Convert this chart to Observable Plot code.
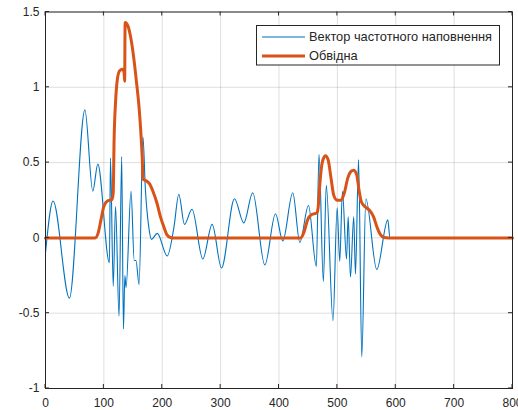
<!DOCTYPE html>
<html><head><meta charset="utf-8">
<script src="https://cdn.jsdelivr.net/npm/d3@7"></script>
<script src="https://cdn.jsdelivr.net/npm/@observablehq/plot@0.6"></script>
<style>body{margin:0;background:#fff}#chart{width:518px;height:410px}</style>
</head><body><div id="chart"></div>
<script>
// Blue signal ("Вектор частотного наповнення"): key points (extrema)
const signalX = [0, 13, 41, 67.5, 81, 89.6, 109.5, 111.3, 116, 120, 126, 130.5, 133.5, 136, 138, 146.5, 152, 155, 160.3, 167, 171, 177, 181.5, 191.5, 208.5, 220, 228.4, 238, 251, 269.5, 285.5, 301.5, 323.7, 339.7, 355, 375.7, 394, 406.5, 423.6, 435.6, 450.5, 464, 468.5, 476, 481, 492.5, 499.6, 504, 508.7, 515.6, 518.5, 522.4, 528, 531, 536.3, 541.8, 548.8, 567.5, 586.4, 590, 800];
const signalY = [-0.10, 0.245, -0.40, 0.85, 0.31, 0.49, -0.165, 0.53, -0.32, 0.21, -0.52, 0.54, -0.605, -0.25, -0.33, 0.31, -0.15, -0.15, -0.31, 0.67, 0.33, 0.07, -0.01, 0.03, -0.12, 0.07, 0.29, 0.09, 0.19, -0.14, 0.09, -0.20, 0.26, 0.10, 0.30, -0.18, 0.16, -0.02, 0.30, -0.03, 0.215, -0.19, 0.555, -0.29, 0.35, -0.55, 0.20, -0.155, 0.31, -0.14, 0.14, -0.26, 0.14, -0.24, 0.52, -0.79, 0.26, -0.21, 0.12, 0, 0];
// Orange envelope ("Обвідна")
const envX = [0, 85, 90, 95, 100, 106, 114, 116, 117.5, 120, 123, 127, 132, 134.5, 135.6, 136.4, 141, 146, 151, 156, 160, 163, 165.5, 167.3, 172, 178, 184, 191, 197, 203, 208, 214, 220, 437, 443, 449, 456, 465, 467, 470, 474, 479.5, 484, 489, 494, 500, 506, 512, 518, 523, 528, 533, 537, 541, 548, 556, 562, 568, 574, 580, 588, 800];
const envY = [0, 0, 0.03, 0.12, 0.21, 0.245, 0.255, 0.30, 0.65, 0.90, 1.05, 1.11, 1.12, 1.10, 1.04, 1.43, 1.41, 1.33, 1.20, 1.03, 0.88, 0.72, 0.55, 0.39, 0.38, 0.36, 0.31, 0.23, 0.14, 0.07, 0.02, 0.003, 0, 0, 0.04, 0.12, 0.155, 0.165, 0.20, 0.36, 0.50, 0.545, 0.52, 0.40, 0.28, 0.25, 0.25, 0.30, 0.40, 0.44, 0.45, 0.42, 0.32, 0.24, 0.205, 0.18, 0.14, 0.07, 0.02, 0.003, 0, 0];
const xTicks = [0, 100, 200, 300, 400, 500, 600, 700, 800];
const yTicks = [-1, -0.5, 0, 0.5, 1, 1.5];
const seriesNames = ["Вектор частотного наповнення", "Обвідна"];
const seriesColors = ["#0072BD", "#D95319"];
const seriesWidths = [1.1, 3];

const signal = signalX.map((x, i) => ({x, y: signalY[i]}));
const envelope = envX.map((x, i) => ({x, y: envY[i]}));
const fmt = d => String(d);

const plot = Plot.plot({
  width: 518, height: 410,
  marginLeft: 45, marginRight: 6, marginTop: 11.5, marginBottom: 22,
  x: {domain: [0, 800]},
  y: {domain: [-1, 1.5]},
  style: {fontFamily: "'Liberation Sans', Arial, sans-serif", fontSize: "12px", color: "#262626", background: "#fff"},
  marks: [
    Plot.gridX(xTicks, {stroke: "#262626", strokeOpacity: 0.15}),
    Plot.gridY(yTicks, {stroke: "#262626", strokeOpacity: 0.15}),
    Plot.axisX(xTicks, {tickSize: 0, tickPadding: 9.5, tickFormat: fmt, label: null}),
    Plot.axisY(yTicks, {tickSize: 0, tickPadding: 6, tickFormat: fmt, label: null}),
    Plot.line(signal, {x: "x", y: "y", stroke: seriesColors[0], strokeWidth: seriesWidths[0], curve: "monotone-x"}),
    Plot.line(envelope, {x: "x", y: "y", stroke: seriesColors[1], strokeWidth: seriesWidths[1], curve: "monotone-x"}),
    Plot.frame({stroke: "#262626", strokeWidth: 1})
  ]
});
document.getElementById("chart").append(plot);

// inward ticks on all four sides (MATLAB box style)
const sx = plot.scale("x"), sy = plot.scale("y");
const svg = d3.select(plot);
const L = sx.apply(0), R = sx.apply(800), T = sy.apply(1.5), B = sy.apply(-1);
const tk = 4;
const g = svg.append("g").attr("stroke", "#262626").attr("stroke-width", 1);
xTicks.forEach(v => {
  const x = sx.apply(v);
  g.append("line").attr("x1", x).attr("x2", x).attr("y1", B).attr("y2", B - tk);
  g.append("line").attr("x1", x).attr("x2", x).attr("y1", T).attr("y2", T + tk);
});
yTicks.forEach(v => {
  const y = sy.apply(v);
  g.append("line").attr("x1", L).attr("x2", L + tk).attr("y1", y).attr("y2", y);
  g.append("line").attr("x1", R).attr("x2", R - tk).attr("y1", y).attr("y2", y);
});

// legend box
const lg = svg.append("g").attr("font-family", "'Liberation Sans', Arial, sans-serif").attr("font-size", 12.8).attr("text-anchor", "start");
lg.append("rect").attr("x", 256.5).attr("y", 25.5).attr("width", 243).attr("height", 39.5)
  .attr("fill", "#fff").attr("stroke", "#262626").attr("stroke-width", 1);
seriesNames.forEach((name, i) => {
  const y = 37 + i * 19;
  lg.append("line").attr("x1", 262).attr("x2", 305).attr("y1", y).attr("y2", y)
    .attr("stroke", seriesColors[i]).attr("stroke-width", seriesWidths[i]);
  lg.append("text").attr("x", 309).attr("y", y).attr("dy", "0.35em").attr("text-anchor", "start")
    .attr("fill", "#262626").text(name);
});
</script>
</body></html>
